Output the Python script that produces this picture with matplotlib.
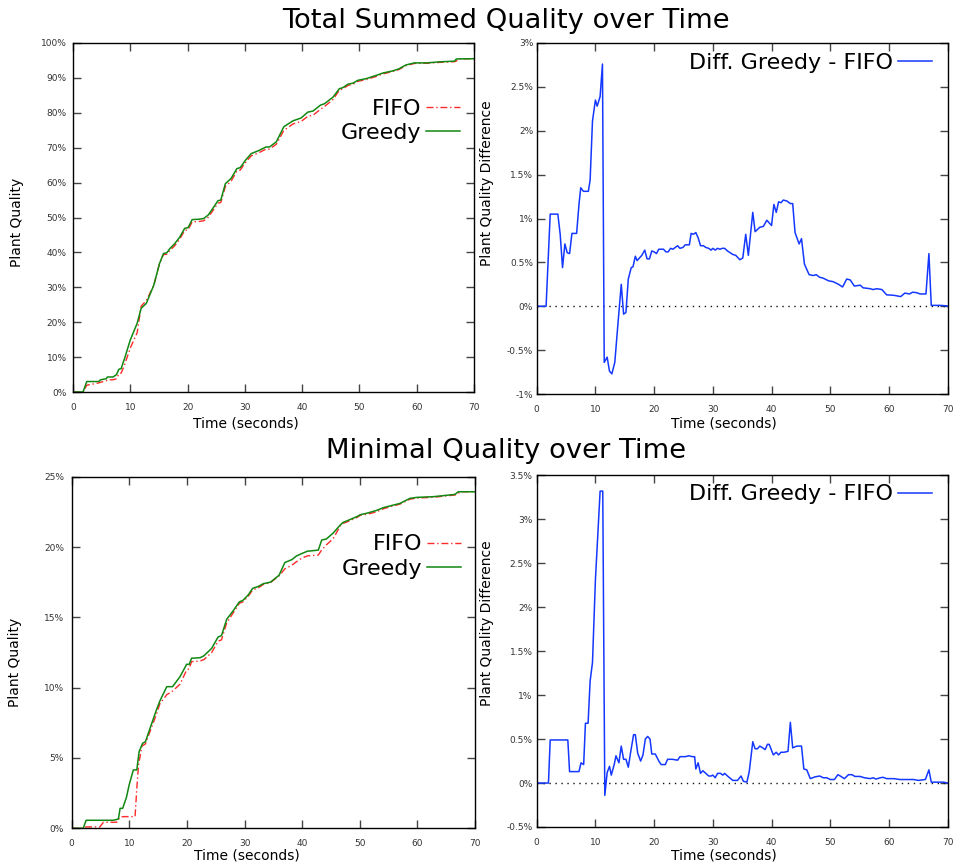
import matplotlib
matplotlib.use("Agg")
import matplotlib.pyplot as plt
from matplotlib.ticker import FuncFormatter, MultipleLocator

# ---------------- data ----------------
# Total summed quality (percent)
t_total = [0, 1.75, 2.4, 4.5, 4.8, 5.8, 6.0, 7.0, 7.6, 8.0, 8.4, 9.0, 10.0, 11.2, 11.9, 12.8,
           14.1, 15.1, 15.8, 16.4, 16.9, 17.7, 18.6, 19.5, 20.1, 20.8, 21.9, 22.8, 23.6, 24.4,
           25.3, 25.8, 26.6, 27.6, 28.6, 29.2, 30.1, 31.1, 32.3, 33.7, 34.3, 35.5, 36.8, 38.4,
           39.8, 41.0, 41.9, 43.2, 43.9, 45.4, 46.5, 47.1, 48.0, 48.9, 49.7, 51.2, 52.9, 54.1,
           55.8, 56.9, 58.1, 59.6, 61.7, 64.0, 66.6, 66.9, 67.2, 70.0]
greedy_total = [0, 0, 3.0, 3.0, 3.5, 3.8, 4.3, 4.3, 5.0, 6.5, 6.7, 9.6, 14.9, 19.7, 24.0, 25.4,
                30.6, 36.8, 39.7, 39.9, 41.1, 42.4, 44.3, 46.9, 47.1, 49.4, 49.5, 49.7, 50.7, 52.6,
                54.8, 55.0, 59.7, 61.2, 64.0, 64.3, 66.4, 68.3, 69.1, 70.2, 70.2, 71.7, 76.0, 77.7,
                78.5, 80.2, 80.5, 82.2, 82.6, 84.5, 86.9, 87.2, 88.2, 88.5, 89.3, 89.8, 90.7, 91.4,
                92.0, 92.6, 93.7, 94.3, 94.3, 94.6, 94.8, 95.4, 95.45, 95.5]
fifo_total = [0, 0, 1.95, 2.6, 2.8, 3.2, 3.5, 3.5, 3.8, 5.2, 5.4, 7.8, 12.6, 17.0, 24.6, 26.2,
              30.5, 36.8, 39.4, 39.45, 40.55, 41.8, 43.7, 46.3, 46.5, 48.75, 48.85, 49.05, 50.03, 51.93,
              54.1, 54.3, 58.9, 60.4, 63.3, 63.6, 65.75, 67.65, 68.45, 69.6, 69.6, 71.0, 74.95, 76.8,
              77.5, 79.0, 79.3, 81.0, 81.8, 83.8, 86.5, 86.85, 87.85, 88.2, 89.0, 89.55, 90.4, 91.15,
              91.8, 92.4, 93.5, 94.15, 94.18, 94.45, 94.65, 94.8, 95.44, 95.5]

# Difference Greedy - FIFO for total quality (percent)
t_diff_total = [0, 1.6, 2.3, 3.6, 4.0, 4.4, 4.8, 5.2, 5.6, 6.0, 6.8, 7.2, 7.5, 7.95, 8.8, 9.1,
                9.5, 10.0, 10.3, 10.8, 11.2, 11.5, 12.0, 12.4, 12.8, 13.3, 13.85, 14.4, 14.8, 15.2,
                15.6, 16.1, 16.4, 16.8, 17.1, 17.9, 18.4, 18.8, 19.2, 19.6, 20.0, 20.4, 20.8, 21.6,
                22.0, 22.4, 22.8, 23.2, 23.6, 24.0, 24.4, 24.9, 25.3, 26.0, 26.3, 26.7, 27.1, 27.5,
                27.9, 28.4, 28.8, 29.3, 29.7, 30.0, 30.4, 30.8, 31.2, 31.6, 32.0, 32.5, 33.4, 33.9,
                34.6, 35.1, 35.6, 36.05, 36.8, 37.2, 38.0, 38.6, 39.2, 40.0, 40.4, 40.8, 41.2, 41.6,
                42.0, 42.6, 43.2, 43.6, 44.0, 44.7, 45.1, 45.6, 46.4, 47.1, 47.6, 48.2, 48.8, 49.7,
                50.5, 51.4, 52.1, 52.8, 53.4, 54.1, 55.1, 55.6, 56.8, 57.3, 57.9, 58.8, 59.6, 60.8,
                62.0, 62.7, 63.5, 64.0, 64.7, 65.3, 66.3, 66.8, 67.2, 68.7, 69.8, 70.0]
diff_total = [0, 0, 1.05, 1.05, 0.82, 0.44, 0.71, 0.61, 0.60, 0.83, 0.83, 1.16, 1.35, 1.31, 1.31, 1.44,
              2.11, 2.35, 2.28, 2.39, 2.76, -0.64, -0.58, -0.74, -0.77, -0.64, -0.19, 0.25, -0.09, -0.07,
              0.31, 0.44, 0.45, 0.57, 0.52, 0.58, 0.64, 0.54, 0.54, 0.63, 0.62, 0.60, 0.65, 0.65,
              0.62, 0.62, 0.66, 0.65, 0.67, 0.69, 0.66, 0.67, 0.70, 0.70, 0.83, 0.82, 0.84, 0.78,
              0.69, 0.69, 0.67, 0.66, 0.64, 0.66, 0.64, 0.66, 0.65, 0.66, 0.66, 0.63, 0.59, 0.58,
              0.53, 0.55, 0.82, 0.58, 1.07, 0.85, 0.90, 0.91, 0.98, 0.92, 1.16, 1.07, 1.19, 1.18,
              1.21, 1.20, 1.17, 1.17, 0.84, 0.71, 0.77, 0.48, 0.36, 0.35, 0.36, 0.33, 0.32, 0.29,
              0.28, 0.25, 0.22, 0.31, 0.30, 0.23, 0.24, 0.21, 0.20, 0.19, 0.20, 0.19, 0.13, 0.125,
              0.11, 0.15, 0.14, 0.16, 0.155, 0.14, 0.14, 0.60, 0.01, 0.01, 0.005, 0]

# Minimal quality (percent)
t_min_greedy = [0, 2.0, 2.5, 7.2, 8.1, 8.4, 8.85, 9.5, 10.0, 10.7, 11.3, 11.7, 12.3, 12.8, 13.7,
                14.7, 15.3, 16.5, 17.5, 18.8, 19.95, 20.4, 20.8, 22.3, 22.96, 24.3, 25.4, 26.0, 26.9,
                28.0, 29.1, 29.7, 30.65, 31.4, 32.4, 33.3, 34.5, 36.0, 37.0, 38.2, 39.0, 39.9, 40.9,
                42.8, 43.4, 44.2, 45.4, 46.6, 47.1, 48.0, 49.5, 50.1, 51.2, 52.9, 54.1, 55.8, 56.97,
                58.7, 59.9, 62.8, 66.5, 67.1, 70.0]
greedy_min = [0, 0, 0.57, 0.57, 0.66, 1.42, 1.42, 2.2, 3.13, 4.15, 4.15, 5.45, 6.04, 6.16, 7.23,
              8.41, 9.05, 10.07, 10.07, 10.78, 11.66, 11.66, 12.09, 12.13, 12.27, 12.8, 13.6, 13.7, 14.86,
              15.45, 16.1, 16.2, 16.6, 17.06, 17.2, 17.4, 17.5, 18.0, 18.9, 19.1, 19.36, 19.53, 19.7,
              19.78, 20.5, 20.57, 21.0, 21.56, 21.75, 21.9, 22.16, 22.3, 22.4, 22.6, 22.8, 22.98, 23.1,
              23.46, 23.53, 23.58, 23.74, 23.93, 23.93]
t_min_fifo = [0, 2.0, 2.3, 4.9, 5.5, 7.8, 8.4, 9.0, 11.0, 11.3, 11.6, 12.2, 12.8, 13.7, 14.7,
              15.3, 16.5, 17.5, 18.8, 19.95, 20.4, 20.8, 22.3, 22.96, 24.3, 25.4, 26.0, 26.9, 28.0,
              29.1, 29.7, 30.65, 31.4, 32.4, 33.3, 34.5, 36.0, 37.0, 38.2, 39.0, 39.9, 40.9, 42.8,
              43.4, 44.2, 45.4, 46.6, 47.1, 48.0, 49.5, 50.1, 51.2, 52.9, 54.1, 55.8, 56.97, 58.7,
              59.9, 62.8, 66.5, 67.1, 67.3, 70.0]
fifo_min = [0, 0, 0.1, 0.1, 0.43, 0.43, 0.8, 0.83, 0.83, 2.84, 4.5, 5.85, 6.0, 7.0, 8.1,
            8.85, 9.5, 9.75, 10.25, 11.25, 11.35, 11.85, 11.9, 12.0, 12.5, 13.3, 13.4, 14.6, 15.3,
            16.0, 16.1, 16.5, 16.95, 17.1, 17.35, 17.47, 17.95, 18.45, 18.7, 18.95, 19.2, 19.37, 19.43,
            19.8, 20.15, 20.6, 21.5, 21.68, 21.82, 22.1, 22.26, 22.32, 22.5, 22.72, 22.92, 23.05, 23.4,
            23.48, 23.54, 23.7, 23.78, 23.93, 23.93]

# Difference Greedy - FIFO for minimal quality (percent)
t_diff_min = [0, 2.0, 2.3, 5.3, 5.6, 7.2, 7.55, 8.0, 8.3, 8.75, 9.1, 9.5, 10.0, 10.8, 11.25, 11.6,
              12.0, 12.4, 12.7, 13.2, 13.5, 14.0, 14.4, 14.8, 15.2, 15.6, 16.0, 16.5, 16.8, 17.2,
              17.7, 18.1, 18.5, 18.9, 19.3, 19.6, 20.2, 20.8, 21.2, 21.9, 22.3, 23.1, 24.0, 24.4,
              25.3, 25.9, 26.5, 26.9, 27.1, 27.5, 27.9, 28.3, 28.8, 29.3, 29.7, 30.0, 30.4, 30.8,
              31.3, 31.7, 32.0, 32.5, 33.4, 34.2, 34.8, 35.2, 35.8, 36.2, 36.8, 37.2, 37.6, 38.0,
              38.5, 38.9, 39.3, 39.6, 40.3, 40.8, 41.2, 41.6, 42.1, 42.8, 43.2, 43.6, 44.3, 45.1,
              45.5, 46.0, 46.6, 47.4, 48.2, 48.8, 49.4, 50.0, 50.7, 51.3, 51.7, 52.4, 53.1, 53.7,
              54.2, 55.1, 55.8, 56.8, 57.3, 57.8, 58.5, 59.0, 59.6, 60.8, 61.9, 63.0, 64.2, 65.0,
              66.2, 66.8, 67.2, 69.3, 70.0]
diff_min = [0, 0, 0.49, 0.49, 0.13, 0.13, 0.23, 0.21, 0.68, 0.68, 1.16, 1.37, 2.31, 3.32, 3.32, -0.14,
            0.12, 0.19, 0.09, 0.21, 0.31, 0.23, 0.42, 0.27, 0.27, 0.18, 0.35, 0.55, 0.55, 0.34,
            0.25, 0.32, 0.50, 0.53, 0.50, 0.33, 0.33, 0.25, 0.21, 0.21, 0.27, 0.27, 0.26, 0.30,
            0.30, 0.31, 0.30, 0.30, 0.16, 0.23, 0.11, 0.14, 0.11, 0.08, 0.08, 0.09, 0.06, 0.11,
            0.11, 0.09, 0.11, 0.08, 0.03, 0.03, 0.08, 0.02, 0.01, 0.13, 0.47, 0.39, 0.39, 0.42,
            0.40, 0.38, 0.44, 0.44, 0.32, 0.35, 0.32, 0.35, 0.35, 0.36, 0.69, 0.40, 0.42, 0.42,
            0.16, 0.15, 0.05, 0.07, 0.08, 0.06, 0.06, 0.04, 0.04, 0.095, 0.08, 0.05, 0.095, 0.095,
            0.075, 0.075, 0.06, 0.05, 0.06, 0.045, 0.06, 0.065, 0.05, 0.05, 0.04, 0.04, 0.04, 0.03,
            0.04, 0.15, 0.01, 0.01, 0]

x_ticks = [0, 10, 20, 30, 40, 50, 60, 70]
titles = ["Total Summed Quality over Time", "Minimal Quality over Time"]
legend_fifo, legend_greedy, legend_diff = "FIFO", "Greedy", "Diff. Greedy - FIFO"
xlabel = "Time (seconds)"
ylabel_q, ylabel_d = "Plant Quality", "Plant Quality Difference"

# ---------------- styling ----------------
plt.rcParams['font.family'] = ['DejaVu Sans']
C_FIFO = '#ff2a2a'
C_GREEDY = '#118811'
C_DIFF = '#1438ff'
TICK_C = '#333333'

W, H = 955, 867
fig = plt.figure(figsize=(W / 100, H / 100), dpi=100)


def axes_px(l, t, r, b):
    return fig.add_axes([l / W, 1 - b / H, (r - l) / W, (b - t) / H])


ax_tl = axes_px(73, 43, 474, 392)
ax_tr = axes_px(536.7, 43, 947.7, 394)
ax_bl = axes_px(71.7, 476.7, 475, 828.3)
ax_br = axes_px(536.7, 475.3, 947.7, 827)

pct = FuncFormatter(lambda v, p: "%g%%" % round(v, 2))


def style(ax, ymin, ymax, ystep, ypad, ylab, ylab_y, xlab_x, xlab_y, ylab_x):
    ax.set_xlim(0, 70)
    ax.set_ylim(ymin, ymax)
    ax.set_xticks(x_ticks)
    ax.yaxis.set_major_locator(MultipleLocator(ystep))
    ax.yaxis.set_major_formatter(pct)
    ax.tick_params(direction='in', length=6, width=1, color='#444444',
                   top=True, right=True, labelsize=6.5, labelcolor=TICK_C)
    ax.tick_params(axis='y', pad=ypad)
    ax.tick_params(axis='x', pad=8)
    for s in ax.spines.values():
        s.set_linewidth(1.0)
        s.set_color('black')
    ax.set_xlabel(xlabel, fontsize=10)
    ax.set_ylabel(ylab, fontsize=10)
    ax.xaxis.set_label_coords(xlab_x, xlab_y)
    ax.xaxis.label.set_va('center')
    ax.yaxis.set_label_coords(ylab_x, ylab_y)
    ax.yaxis.label.set_va('center')


fifo_ls = (0, (5, 2, 1, 2))

# top-left
ax_tl.plot(t_total, fifo_total, color=C_FIFO, lw=1.0, ls=fifo_ls, label=legend_fifo)
ax_tl.plot(t_total, greedy_total, color=C_GREEDY, lw=1.1, label=legend_greedy)
style(ax_tl, 0, 100, 10, 4.5, ylabel_q, 0.486, 0.431, -0.089, -0.14)

# top-right
ax_tr.axhline(0, color='#111111', lw=1.0, ls=(0, (1, 3.3)))
ax_tr.plot(t_diff_total, diff_total, color=C_DIFF, lw=1.1, label=legend_diff)
style(ax_tr, -1, 3, 0.5, 2.5, ylabel_d, 0.60, 0.455, -0.083, -0.121)

# bottom-left
ax_bl.plot(t_min_fifo, fifo_min, color=C_FIFO, lw=1.0, ls=fifo_ls, label=legend_fifo)
ax_bl.plot(t_min_greedy, greedy_min, color=C_GREEDY, lw=1.1, label=legend_greedy)
style(ax_bl, 0, 25, 5, 5.5, ylabel_q, 0.473, 0.434, -0.076, -0.14)

# bottom-right
ax_br.axhline(0, color='#111111', lw=1.0, ls=(0, (1, 3.3)))
ax_br.plot(t_diff_min, diff_min, color=C_DIFF, lw=1.1, label=legend_diff)
style(ax_br, -0.5, 3.5, 0.5, 3, ylabel_d, 0.58, 0.455, -0.080, -0.121)

leg_kw = dict(frameon=False, markerfirst=False, fontsize=16, handlelength=1.55,
              handletextpad=0.2, labelspacing=0.19, borderpad=0, borderaxespad=0,
              loc='upper right')
ax_tl.legend(bbox_to_anchor=(0.966, 0.840), **leg_kw)
ax_bl.legend(bbox_to_anchor=(0.966, 0.836), **leg_kw)
ax_tr.legend(bbox_to_anchor=(0.962, 0.971), **leg_kw)
ax_br.legend(bbox_to_anchor=(0.962, 0.974), **leg_kw)

fig.text(506 / W, 1 - 21 / H, titles[0], ha='center', va='center', fontsize=19.7)
fig.text(506 / W, 1 - 451 / H, titles[1], ha='center', va='center', fontsize=19.7)

fig.savefig("out.png", dpi=100)
